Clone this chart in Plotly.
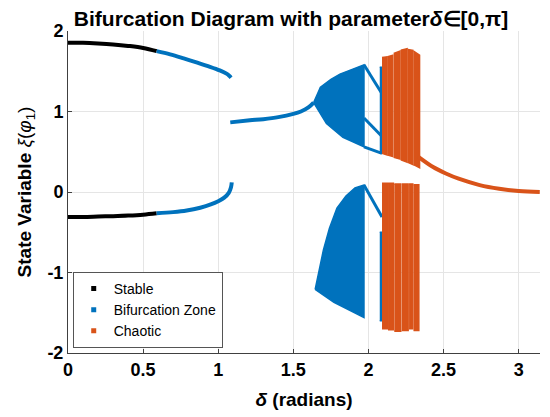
import plotly.graph_objects as go

BLACK = "#000000"
BLUE = "#0072BD"
ORANGE = "#D95319"

# stable branches (black)
stable_delta = [0, 0.1, 0.2, 0.3, 0.4, 0.5, 0.59]
stable_upper = [1.855, 1.853, 1.845, 1.833, 1.815, 1.79, 1.75]
stable_lower = [-0.31, -0.31, -0.305, -0.30, -0.293, -0.282, -0.265]

# bifurcation branches up to the jump (blue)
bif_up_delta = [0.59, 0.68, 0.77, 0.855, 0.945, 1.01, 1.055, 1.075, 1.085]
bif_upper = [1.75, 1.71, 1.66, 1.61, 1.555, 1.51, 1.47, 1.44, 1.42]
bif_lo_delta = [0.59, 0.7, 0.79, 0.88, 0.95, 1.0, 1.04, 1.07, 1.085, 1.09]
bif_lower = [-0.265, -0.25, -0.23, -0.195, -0.155, -0.115, -0.07, -0.01, 0.06, 0.12]

# single branch after the jump
mid_delta = [1.08, 1.21, 1.3, 1.4, 1.5, 1.55, 1.6, 1.635]
mid_y = [0.865, 0.89, 0.905, 0.93, 0.97, 1.0, 1.05, 1.11]

# dense blue bands (outline of the point cloud)
band_up_top_delta = [1.635, 1.68, 1.75, 1.81, 1.90, 1.97]
band_up_top = [1.11, 1.30, 1.40, 1.465, 1.53, 1.58]
band_up_bot_delta = [1.635, 1.72, 1.83, 1.90, 1.97]
band_up_bot = [1.11, 0.85, 0.68, 0.62, 0.56]

band_lo_top_delta = [1.645, 1.67, 1.70, 1.74, 1.79, 1.85, 1.91, 1.97]
band_lo_top = [-1.21, -0.98, -0.72, -0.45, -0.20, -0.05, 0.05, 0.086]
band_lo_bot_delta = [1.645, 1.77, 1.97]
band_lo_bot = [-1.21, -1.37, -1.56]

# period lines between the blue bands and the chaotic zone
trans_delta = [1.97, 2.09]
trans_start = [1.58, 0.92, 0.56, 0.086]
trans_end = [1.22, 0.69, 0.48, -0.31]

# thin blue strip along the left edge of the chaotic zone
strip_delta = [2.075, 2.09]
strip_top = [1.55, -0.50]
strip_bot = [0.48, -1.60]

# chaotic columns (orange), upper cloud
up_x0 = [2.09, 2.128, 2.168, 2.215, 2.262, 2.30]
up_x1 = [2.124, 2.162, 2.210, 2.257, 2.296, 2.34]
up_top0 = [1.67, 1.68, 1.72, 1.76, 1.77, 1.75]
up_top1 = [1.68, 1.70, 1.75, 1.78, 1.76, 1.70]
up_bot0 = [0.48, 0.46, 0.43, 0.40, 0.37, 0.34]
up_bot1 = [0.46, 0.44, 0.41, 0.37, 0.34, 0.30]

# chaotic columns (orange), lower cloud
lo_x0 = [2.09, 2.13, 2.172, 2.222, 2.27, 2.30]
lo_x1 = [2.125, 2.166, 2.215, 2.264, 2.295, 2.335]
lo_top = [0.11, 0.11, 0.10, 0.10, 0.10, 0.09]
lo_bot = [-1.70, -1.71, -1.73, -1.72, -1.70, -1.72]

# decaying branch after the chaos
tail_delta = [2.33, 2.43, 2.515, 2.60, 2.74, 2.87, 3.0, 3.14]
tail_y = [0.44, 0.31, 0.23, 0.165, 0.086, 0.04, 0.012, 0.0]

fig = go.Figure()

# legend entries
for name, col in [("Stable", BLACK), ("Bifurcation Zone", BLUE), ("Chaotic", ORANGE)]:
    fig.add_trace(go.Scatter(x=[None], y=[None], mode="markers", name=name,
                             marker=dict(symbol="square", size=5, color=col)))


def line(x, y, col, w=4, shape="spline"):
    fig.add_trace(go.Scatter(x=x, y=y, mode="lines", showlegend=False,
                             line=dict(color=col, width=w, shape=shape), hoverinfo="skip"))


def patch(x, y, col):
    fig.add_trace(go.Scatter(x=x, y=y, mode="lines", fill="toself", fillcolor=col,
                             showlegend=False, line=dict(color=col, width=1.5),
                             hoverinfo="skip"))


line(stable_delta, stable_upper, BLACK)
line(stable_delta, stable_lower, BLACK)
line(bif_up_delta, bif_upper, BLUE)
line(bif_lo_delta, bif_lower, BLUE)
line(mid_delta, mid_y, BLUE)

patch(band_up_top_delta + band_up_bot_delta[::-1], band_up_top + band_up_bot[::-1], BLUE)
patch(band_lo_top_delta + band_lo_bot_delta[::-1], band_lo_top + band_lo_bot[::-1], BLUE)

for a, b in zip(trans_start, trans_end):
    line(trans_delta, [a, b], BLUE, 3, "linear")

for t, b in zip(strip_top, strip_bot):
    patch([strip_delta[0], strip_delta[1], strip_delta[1], strip_delta[0]], [t, t, b, b], BLUE)

for i in range(len(up_x0)):
    patch([up_x0[i], up_x1[i], up_x1[i], up_x0[i]],
          [up_top0[i], up_top1[i], up_bot1[i], up_bot0[i]], ORANGE)

for i in range(len(lo_x0)):
    patch([lo_x0[i], lo_x1[i], lo_x1[i], lo_x0[i]],
          [lo_top[i], lo_top[i], lo_bot[i], lo_bot[i]], ORANGE)

line(tail_delta, tail_y, ORANGE)

FONT = "Arial, Liberation Sans, sans-serif"
tick_font = dict(family=FONT, size=18, color="black")

# the page body adds an 8px offset, so the figure is 8px smaller each way
fig.update_layout(
    width=542, height=409,
    margin=dict(l=60, r=10, t=23, b=64),
    plot_bgcolor="white", paper_bgcolor="white",
    font=dict(family=FONT, color="black"),
    title=dict(text="<b>Bifurcation Diagram with parameter<i>δ</i>∈[0,π]</b>",
               font=dict(size=21, color="black"), x=283 / 542, xanchor="center", xref="container",
               y=1 - 3 / 409, yanchor="top"),
    legend=dict(x=0.01, y=0.016, xanchor="left", yanchor="bottom",
                bgcolor="white", bordercolor="#555555", borderwidth=1,
                font=dict(size=14, color="black"), tracegroupgap=0, itemwidth=30),
)

fig.update_xaxes(
    range=[0, 3.14159], tickvals=[0, 0.5, 1, 1.5, 2, 2.5, 3],
    ticktext=["<b>0</b>", "<b>0.5</b>", "<b>1</b>", "<b>1.5</b>", "<b>2</b>", "<b>2.5</b>", "<b>3</b>"],
    tickfont=tick_font, showgrid=True, gridcolor="#E5E5E5", zeroline=False,
    showline=True, linecolor="#404040", linewidth=1, ticks="inside", ticklen=4,
    tickcolor="#404040", automargin=False,
    title=dict(text="<b><i>δ</i> (radians)</b>", font=dict(size=19, color="black"), standoff=14),
)
fig.update_yaxes(
    range=[-2, 2], tickvals=[-2, -1, 0, 1, 2],
    ticktext=["<b>-2</b>", "<b>-1</b>", "<b>0</b>", "<b>1</b>", "<b>2</b>"],
    tickfont=tick_font, showgrid=True, gridcolor="#E5E5E5", zeroline=False,
    showline=True, linecolor="#404040", linewidth=1, ticks="inside", ticklen=4,
    tickcolor="#404040", automargin=False,
    title=dict(text="<b>State Variable </b><i>ξ</i>(<i>φ</i><sub>1</sub>)",
               font=dict(size=19, color="black"), standoff=10),
)

fig.write_html("out.html")
